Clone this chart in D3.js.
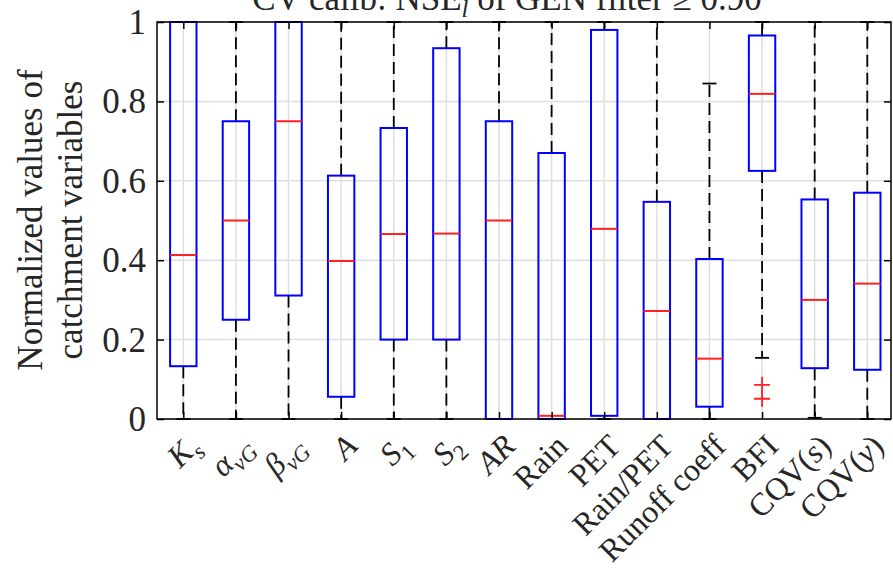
<!DOCTYPE html>
<html>
<head>
<meta charset="utf-8">
<script src="https://cdn.jsdelivr.net/npm/d3@7"></script>
<style>
  html, body { margin: 0; padding: 0; background: #fff; }
</style>
</head>
<body>
<svg id="chart" width="893" height="570"></svg>
<script>
// tick labels: each label is a list of [text, style] pieces
// style: "u" upright, "i" italic, "su" subscript upright, "si" subscript italic
const categories = [
  [["K", "i"], ["s", "si"]],
  [["α", "i"], ["vG", "si"]],
  [["β", "i"], ["vG", "si"]],
  [["A", "i"]],
  [["S", "i"], ["1", "su"]],
  [["S", "i"], ["2", "su"]],
  [["AR", "i"]],
  [["Rain", "u"]],
  [["PET", "u"]],
  [["Rain/PET", "u"]],
  [["Runoff coeff", "u"]],
  [["BFI", "u"]],
  [["CQV(", "u"], ["s", "i"], [")", "u"]],
  [["CQV(", "u"], ["y", "i"], [")", "u"]]
];

// box statistics (normalized values)
const q1 = [0.133, 0.25, 0.311, 0.056, 0.2, 0.2, 0, 0, 0.008, 0, 0.031, 0.625, 0.128, 0.124];
const medians = [0.413, 0.5, 0.75, 0.398, 0.466, 0.467, 0.5, 0.008, 0.479, 0.272, 0.152, 0.819, 0.3, 0.341];
const q3 = [1, 0.75, 1, 0.613, 0.733, 0.934, 0.75, 0.67, 0.98, 0.547, 0.403, 0.966, 0.553, 0.57];
const whiskerLow = [0, 0, 0, 0, 0, 0, 0, 0, 0, 0, 0, 0.154, 0.003, 0];
const whiskerHigh = [1, 1, 1, 1, 1, 1, 1, 1, 1, 1, 0.845, 1, 1, 1];
const outliers = [[], [], [], [], [], [], [], [], [], [], [], [0.086, 0.051], [], []];

const yTicks = [0, 0.2, 0.4, 0.6, 0.8, 1];

// plot area
const LEFT = 157, RIGHT = 891, TOP = 22, BOTTOM = 419;
const FONT = 35;      // axis label / tick label size
const XFONT = 32;     // rotated category labels
const FAMILY = "'Liberation Serif', 'Times New Roman', serif";
const INK = "#262626";

const svg = d3.select("#chart");
const idx = d3.range(categories.length);

const x = d3.scaleLinear().domain([0.5, categories.length + 0.5]).range([LEFT, 893.6]);
const y = d3.scaleLinear().domain([0, 1]).range([BOTTOM, TOP]);

const boxHalf = 13.2;  // half box width in px
const capHalf = 7;     // half whisker cap width

// grid
const grid = svg.append("g").attr("stroke", "#dfdfdf").attr("stroke-width", 1.5);
grid.selectAll("line.h").data(yTicks).enter().append("line")
  .attr("x1", LEFT).attr("x2", RIGHT)
  .attr("y1", d => y(d)).attr("y2", d => y(d));
grid.selectAll("line.v").data(idx).enter().append("line")
  .attr("x1", i => x(i + 1)).attr("x2", i => x(i + 1))
  .attr("y1", TOP).attr("y2", BOTTOM);

// whiskers (dashed)
const marks = svg.append("g");
marks.selectAll("line.wu").data(idx).enter().append("line")
  .attr("x1", i => x(i + 1)).attr("x2", i => x(i + 1))
  .attr("y1", i => y(q3[i])).attr("y2", i => y(whiskerHigh[i]))
  .attr("stroke", "#000").attr("stroke-width", 1.8).attr("stroke-dasharray", "12,6");
marks.selectAll("line.wl").data(idx).enter().append("line")
  .attr("x1", i => x(i + 1)).attr("x2", i => x(i + 1))
  .attr("y1", i => y(q1[i])).attr("y2", i => y(whiskerLow[i]))
  .attr("stroke", "#000").attr("stroke-width", 1.8).attr("stroke-dasharray", "12,6");

// whisker caps
marks.selectAll("line.cu").data(idx).enter().append("line")
  .attr("x1", i => x(i + 1) - capHalf).attr("x2", i => x(i + 1) + capHalf)
  .attr("y1", i => y(whiskerHigh[i])).attr("y2", i => y(whiskerHigh[i]))
  .attr("stroke", "#000").attr("stroke-width", 1.8);
marks.selectAll("line.cl").data(idx).enter().append("line")
  .attr("x1", i => x(i + 1) - capHalf).attr("x2", i => x(i + 1) + capHalf)
  .attr("y1", i => y(whiskerLow[i])).attr("y2", i => y(whiskerLow[i]))
  .attr("stroke", "#000").attr("stroke-width", 1.8);

// boxes
marks.selectAll("rect.box").data(idx).enter().append("rect")
  .attr("x", i => x(i + 1) - boxHalf)
  .attr("width", boxHalf * 2)
  .attr("y", i => y(q3[i]))
  .attr("height", i => y(q1[i]) - y(q3[i]))
  .attr("fill", "none").attr("stroke", "#0000ff").attr("stroke-width", 2);

// medians
marks.selectAll("line.med").data(idx).enter().append("line")
  .attr("x1", i => x(i + 1) - boxHalf).attr("x2", i => x(i + 1) + boxHalf)
  .attr("y1", i => y(medians[i])).attr("y2", i => y(medians[i]))
  .attr("stroke", "#ff2020").attr("stroke-width", 2);

// outliers as red plus signs
const outPts = [];
outliers.forEach((vals, i) => vals.forEach(v => outPts.push([i, v])));
marks.selectAll("path.out").data(outPts).enter().append("path")
  .attr("d", d => {
    const cx = x(d[0] + 1), cy = y(d[1]);
    return `M${cx - 8},${cy}H${cx + 8}M${cx},${cy - 8}V${cy + 8}`;
  })
  .attr("stroke", "#ff2020").attr("stroke-width", 1.8).attr("fill", "none");

// axes, ticks pointing inward
const yAxis = d3.axisLeft(y).tickValues(yTicks).tickSize(-7).tickPadding(11)
  .tickFormat(d3.format(""));
const yAxisG = svg.append("g").attr("transform", `translate(${LEFT},0)`).call(yAxis);
yAxisG.selectAll("text")
  .attr("dy", "0.33em")
  .style("font-family", FAMILY).style("font-size", FONT + "px").style("fill", INK);

svg.append("g").attr("transform", `translate(${RIGHT},0)`)
  .call(d3.axisRight(y).tickValues(yTicks).tickSize(-7).tickFormat(""));

const xTickVals = idx.map(i => i + 1);
svg.append("g").attr("transform", `translate(0,${BOTTOM})`)
  .call(d3.axisBottom(x).tickValues(xTickVals).tickSize(-7).tickFormat(""));
svg.append("g").attr("transform", `translate(0,${TOP})`)
  .call(d3.axisTop(x).tickValues(xTickVals).tickSize(-7).tickFormat(""));

svg.selectAll(".domain").remove();
svg.selectAll(".tick line").attr("stroke", "#000").attr("stroke-width", 1.5);

// frame
svg.append("rect")
  .attr("x", LEFT).attr("y", TOP)
  .attr("width", RIGHT - LEFT).attr("height", BOTTOM - TOP)
  .attr("fill", "none").attr("stroke", "#000").attr("stroke-width", 1.5);

// rotated x tick labels
const xLabels = svg.append("g");
categories.forEach((parts, i) => {
  const ax = x(i + 1) + 18, ay = 448;
  const t = xLabels.append("text")
    .attr("x", ax).attr("y", ay)
    .attr("text-anchor", "end")
    .attr("transform", `rotate(-45,${ax},${ay})`)
    .style("font-family", FAMILY).style("font-size", XFONT + "px").style("fill", INK);
  let shifted = 0;
  parts.forEach(([txt, st]) => {
    const sub = st.startsWith("s");
    const target = sub ? 8 : 0;
    const ts = t.append("tspan").text(txt)
      .attr("dy", target - shifted)
      .style("font-style", st.endsWith("i") ? "italic" : "normal");
    if (sub) ts.style("font-size", (XFONT * 0.7) + "px");
    shifted = target;
  });
});

// y label (two lines)
const yl = svg.append("text")
  .attr("transform", "translate(42,220) rotate(-90)")
  .attr("text-anchor", "middle")
  .style("font-family", FAMILY).style("font-size", FONT + "px").style("fill", INK);
yl.append("tspan").attr("x", 0).attr("y", 0).text("Normalized values of");
yl.append("tspan").attr("x", 0).attr("y", 40).text("catchment variables");

// title (mostly cut off at the top, as in the reference)
const title = svg.append("text")
  .attr("x", 507).attr("y", 10)
  .attr("text-anchor", "middle")
  .style("font-family", FAMILY).style("font-size", FONT + "px").style("fill", INK);
title.append("tspan").text("CV calib:  NSE");
title.append("tspan").text("l").attr("dy", 7).style("font-style", "italic").style("font-size", (FONT * 0.7) + "px");
title.append("tspan").text(" of GEN filter ≥ 0.90").attr("dy", -7);
</script>
</body>
</html>
